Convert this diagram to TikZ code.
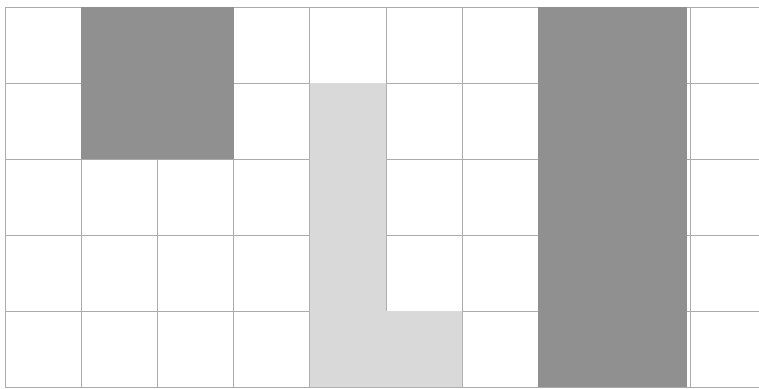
\documentclass[tikz,border=0pt]{standalone}
\usepackage{tikz}
\definecolor{gridc}{HTML}{ABABAB}
\definecolor{darkc}{HTML}{909090}
\definecolor{lightc}{HTML}{D9D9D9}
\tikzset{
  gl/.style={gridc,line width=0.9pt},
  darkblk/.style={fill=darkc},
  lightblk/.style={fill=lightc}
}
\begin{document}
\begin{tikzpicture}[x=1pt,y=-1pt]
\useasboundingbox (0,0) rectangle (759,388);
\fill[white] (0,0) rectangle (759,388);
\foreach \i in {0,...,10} \draw[gl] ({5+76.2*\i},7)--({5+76.2*\i},387);
\foreach \j in {0,...,5} \draw[gl] (5,{7+76*\j})--(767,{7+76*\j});
\fill[darkblk] (81.2,7) rectangle (233.6,159);
\fill[darkblk] (538.4,7) rectangle (687,387);
\fill[lightblk] (309.8,83)--(386,83)--(386,311)--(462.2,311)--(462.2,387)--(309.8,387)--cycle;
\end{tikzpicture}
\end{document}
